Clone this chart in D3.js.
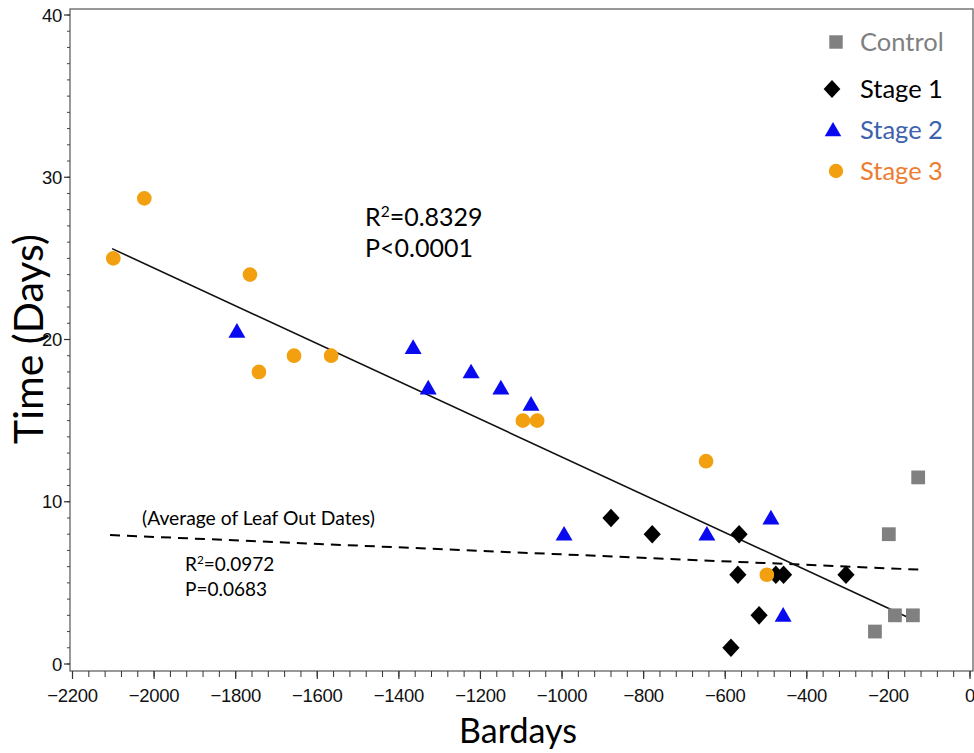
<!DOCTYPE html>
<html>
<head>
<meta charset="utf-8">
<script src="https://cdn.jsdelivr.net/npm/d3@7"></script>
<style>
  html, body { margin: 0; padding: 0; background: #fff; }
  svg { display: block; }
</style>
</head>
<body>
<svg id="chart" width="974" height="753"></svg>
<script>
// Bardays (x) vs. time in days (y) for each treatment group
const controlPts = [[-127, 11.5], [-199, 8], [-184, 3], [-140, 3], [-233, 2]];
const stage1Pts = [[-880, 9], [-779, 8], [-566, 8], [-569, 5.5], [-517, 3], [-586, 1],
                   [-476, 5.5], [-457, 5.5], [-304, 5.5]];
const stage2Pts = [[-1797, 20.5], [-1365, 19.5], [-1328, 17], [-1223, 18], [-1150, 17],
                   [-1076, 16], [-995, 8], [-645, 8], [-488, 9], [-458, 3]];
const stage3Pts = [[-2100, 25], [-2024, 28.7], [-1765, 24], [-1743, 18], [-1657, 19],
                   [-1566, 19], [-1096, 15], [-1061, 15], [-647, 12.5], [-498, 5.5]];

// Fitted lines (end points in data units)
const fitAllX = [-2103, -154];
const fitAllY = [25.6, 2.9];
const fitLeafX = [-2108, -110];
const fitLeafY = [7.95, 5.8];

const xTicks = d3.range(-2200, 1, 200);
const yTicks = [0, 10, 20, 30, 40];

const seriesNames = ["Control", "Stage 1", "Stage 2", "Stage 3"];
const markerColors = ["#808080", "#000000", "#0a0af0", "#f2a00f"];
const labelColors = ["#7f7f7f", "#000000", "#3d62ad", "#ed7d31"];
const markerShapes = [d3.symbolSquare, d3.symbolDiamond, d3.symbolTriangle, d3.symbolCircle];
const markerSizes = [190, 100, 125, 170];
const markerStretch = [1, 1.6, 1, 1];   // horizontal widening per shape
const markerShift = [0, 0, 1.5, 0];     // vertical centring tweak

const svg = d3.select("#chart");

const frame = { left: 70, right: 973, top: 9, bottom: 671 };
const x = d3.scaleLinear().domain([-2200, 0]).range([72.5, 970]);
const y = d3.scaleLinear().domain([0, 40]).range([664, 15]);

const tickFont = "'Liberation Sans', Arial, sans-serif";
const textFont = "Lato, 'Open Sans', sans-serif";

// Plot frame
svg.append("rect")
  .attr("x", frame.left).attr("y", frame.top)
  .attr("width", frame.right - frame.left).attr("height", frame.bottom - frame.top)
  .attr("fill", "none").attr("stroke", "#555").attr("stroke-width", 1.2);

// X axis: major labels every 200, minor ticks every 40
const xAxisG = svg.append("g").attr("transform", `translate(0,${frame.bottom})`);
xAxisG.selectAll("line.minor").data(d3.range(-2200, 1, 40)).join("line")
  .attr("x1", d => x(d)).attr("x2", d => x(d))
  .attr("y1", 0).attr("y2", 6)
  .attr("stroke", "#333").attr("stroke-width", 1);
xAxisG.selectAll("line.major").data(xTicks).join("line")
  .attr("x1", d => x(d)).attr("x2", d => x(d))
  .attr("y1", 0).attr("y2", 8)
  .attr("stroke", "#333").attr("stroke-width", 1.2);
xAxisG.selectAll("text").data(xTicks).join("text")
  .attr("x", d => x(d)).attr("y", 31)
  .attr("text-anchor", "middle")
  .attr("font-family", tickFont)
  .attr("font-size", 18.5)
  .attr("letter-spacing", -0.3)
  .attr("fill", "#111")
  .text(d => d3.format("d")(d).replace("-", "\u2212"));

// Y axis: major labels every 10, minor ticks every 1
const yAxisG = svg.append("g").attr("transform", `translate(${frame.left},0)`);
yAxisG.selectAll("line.minor").data(d3.range(0, 41, 1)).join("line")
  .attr("x1", 0).attr("x2", -3)
  .attr("y1", d => y(d)).attr("y2", d => y(d))
  .attr("stroke", "#444").attr("stroke-width", 1);
yAxisG.selectAll("line.major").data(yTicks).join("line")
  .attr("x1", 0).attr("x2", -6)
  .attr("y1", d => y(d)).attr("y2", d => y(d))
  .attr("stroke", "#333").attr("stroke-width", 1.2);
yAxisG.selectAll("text").data(yTicks).join("text")
  .attr("x", -8).attr("y", d => y(d) + 6.5)
  .attr("text-anchor", "end")
  .attr("font-family", tickFont)
  .attr("font-size", 18.5)
  .attr("letter-spacing", -0.3)
  .attr("fill", "#111")
  .text(d => d);

// Axis titles
svg.append("text")
  .attr("x", 518).attr("y", 743)
  .attr("text-anchor", "middle")
  .attr("font-family", textFont)
  .attr("font-size", 34)
  .attr("fill", "#000")
  .text("Bardays");
svg.append("text")
  .attr("transform", "translate(43,339) rotate(-90)")
  .attr("text-anchor", "middle")
  .attr("font-family", textFont)
  .attr("font-size", 41)
  .attr("fill", "#000")
  .text("Time (Days)");

// Fitted lines
const line = d3.line().x(d => x(d[0])).y(d => y(d[1]));
svg.append("path")
  .datum(fitLeafX.map((v, i) => [v, fitLeafY[i]]))
  .attr("d", line)
  .attr("fill", "none").attr("stroke", "#000").attr("stroke-width", 2)
  .attr("stroke-dasharray", "10,7");
svg.append("path")
  .datum(fitAllX.map((v, i) => [v, fitAllY[i]]))
  .attr("d", line)
  .attr("fill", "none").attr("stroke", "#111").attr("stroke-width", 1.6);

// Points for each group
[controlPts, stage1Pts, stage2Pts, stage3Pts].forEach((pts, i) => {
  const sym = d3.symbol().type(markerShapes[i]).size(markerSizes[i]);
  svg.append("g").selectAll("path").data(pts).join("path")
    .attr("d", sym)
    .attr("transform", d =>
      `translate(${x(d[0])},${y(d[1]) + markerShift[i]}) scale(${markerStretch[i]},1)`)
    .attr("fill", markerColors[i]);
});

// Legend
const legendRows = [42, 89, 130, 171];
const legendMarkX = [836, 832, 833, 836];
const legend = svg.append("g");
seriesNames.forEach((name, i) => {
  const sym = d3.symbol().type(markerShapes[i]).size(markerSizes[i] * 0.95);
  legend.append("path")
    .attr("d", sym)
    .attr("transform",
      `translate(${legendMarkX[i]},${legendRows[i] + markerShift[i]}) scale(${markerStretch[i]},1)`)
    .attr("fill", markerColors[i]);
  legend.append("text")
    .attr("x", 860).attr("y", legendRows[i] + 9)
    .attr("font-family", textFont)
    .attr("font-size", 25.5)
    .attr("fill", labelColors[i])
    .text(name);
});

// Statistics annotations
function rSquared(xPos, yPos, size, value) {
  const t = svg.append("text")
    .attr("x", xPos).attr("y", yPos)
    .attr("font-family", textFont)
    .attr("font-size", size)
    .attr("fill", "#000");
  t.append("tspan").text("R");
  t.append("tspan").attr("font-size", size * 0.62).attr("dy", -size * 0.38).text("2");
  t.append("tspan").attr("dy", size * 0.38).text("=" + value);
}
function plainText(xPos, yPos, size, str) {
  svg.append("text")
    .attr("x", xPos).attr("y", yPos)
    .attr("font-family", textFont)
    .attr("font-size", size)
    .attr("fill", "#000")
    .text(str);
}
rSquared(365, 226, 25, "0.8329");
plainText(365, 257, 25, "P<0.0001");
plainText(142, 525, 19.3, "(Average of Leaf Out Dates)");
rSquared(185, 571, 19, "0.0972");
plainText(185, 596, 19, "P=0.0683");
</script>
</body>
</html>
